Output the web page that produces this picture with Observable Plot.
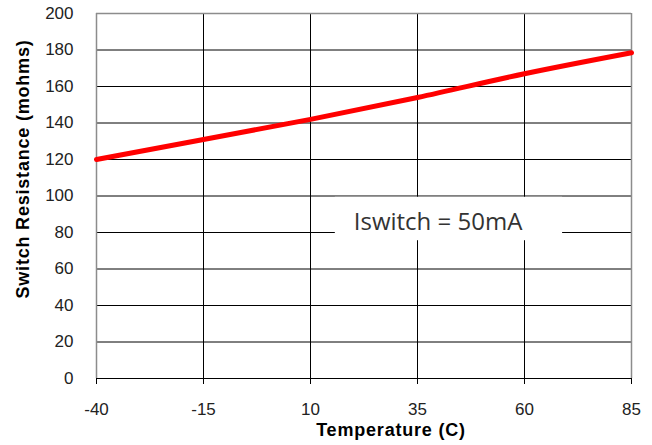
<!DOCTYPE html>
<html>
<head>
<meta charset="utf-8">
<script src="https://cdn.jsdelivr.net/npm/d3@7"></script>
<script src="https://cdn.jsdelivr.net/npm/@observablehq/plot@0.6"></script>
<style>
  html, body { margin: 0; padding: 0; background: #fff; }
</style>
</head>
<body>
<div id="chart"></div>
<script>
const temperature = [-40, -15, 10, 35, 60, 85];
const resistance = [120, 131, 142, 154, 167, 178.5];
const xTicks = [-40, -15, 10, 35, 60, 85];
const yTicks = [0, 20, 40, 60, 80, 100, 120, 140, 160, 180, 200];
const annotation = "Iswitch = 50mA";
const xTitle = "Temperature (C)";
const yTitle = "Switch Resistance (mohms)";

const data = temperature.map((t, i) => ({t, r: resistance[i]}));

const chart = Plot.plot({
  width: 652,
  height: 445,
  marginLeft: 96,
  marginRight: 21,
  marginTop: 13,
  marginBottom: 67,
  style: {background: "#fff", fontFamily: "Liberation Sans, Arial, sans-serif"},
  x: {domain: [-40, 85]},
  y: {domain: [0, 200]},
  marks: [
    Plot.gridY(yTicks.filter(d => d > 0 && d < 200), {stroke: "#000", strokeOpacity: 1, strokeWidth: 1}),
    Plot.gridX(xTicks.filter(d => d > -40 && d < 85), {stroke: "#000", strokeOpacity: 1, strokeWidth: 1}),
    Plot.ruleY([200], {stroke: "#8c8c8c", strokeWidth: 1.5}),
    Plot.ruleX([-40, 85], {stroke: "#8c8c8c", strokeWidth: 1.5}),
    Plot.ruleY([0], {stroke: "#000", strokeWidth: 1.2}),
    Plot.axisX({ticks: xTicks, tickFormat: d => String(d), tickSize: 6, tickPadding: 18, fontSize: 17, label: null, stroke: "#000", fill: "#222"}),
    Plot.axisY({ticks: yTicks, tickFormat: d => String(d), tickSize: 0, tickPadding: 23, fontSize: 17, label: null, fill: "#222"}),
    Plot.rect([0], {x1: 15.8, x2: 68.9, y1: 75.5, y2: 99.3, fill: "#fff"}),
    Plot.text([annotation], {x: 39.8, y: 85.5, text: d => d, fontSize: 24, fill: "#333", fontFamily: "Open Sans, sans-serif"}),
    Plot.line(data, {x: "t", y: "r", stroke: "#ff0000", strokeWidth: 5, curve: "monotone-x"}),
    Plot.text([xTitle], {frameAnchor: "bottom", textAnchor: "middle", dx: 27, dy: 57, text: d => d, fontSize: 18, fontWeight: "bold", fill: "#000"}),
    Plot.text([yTitle], {frameAnchor: "left", textAnchor: "middle", dx: -73, dy: -27, rotate: -90, text: d => d, fontSize: 18, fontWeight: "bold", fill: "#000"})
  ]
});
chart.querySelectorAll("text").forEach(t => {
  if (t.textContent === xTitle || t.textContent === yTitle) t.setAttribute("letter-spacing", "0.8");
});
document.getElementById("chart").appendChild(chart);
</script>
</body>
</html>
